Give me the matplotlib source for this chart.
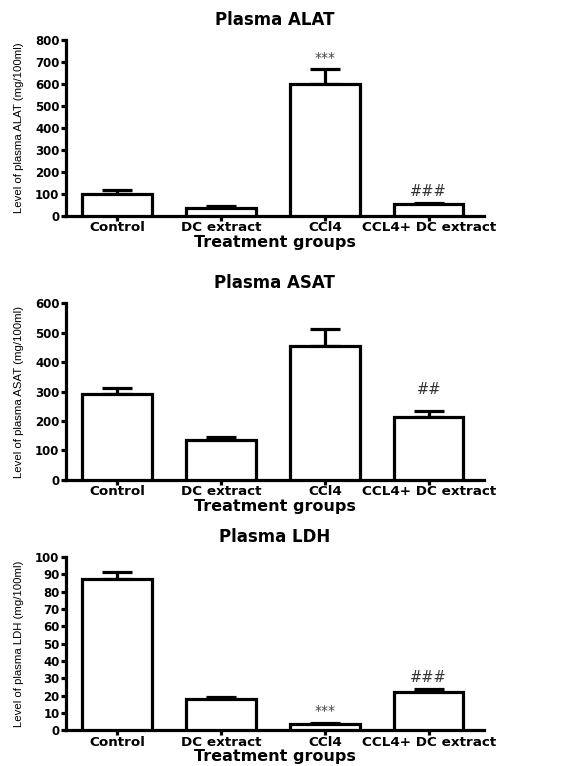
import numpy as np
import matplotlib
matplotlib.use("Agg")
import matplotlib.pyplot as plt
from matplotlib import font_manager

plt.rcParams["font.family"] = ["DejaVu Sans"]

installed = {f.name for f in font_manager.fontManager.ttflist}
narrow = "Liberation Sans"
narrow_size = 8.2
for cand in ["Liberation Sans Narrow", "DejaVu Sans Condensed"]:
    if cand in installed:
        narrow, narrow_size = cand, 9
        break

groups = ["Control", "DC extract", "CCl4", "CCL4+ DC extract"]

alat_mean = [100, 38, 600, 55]
alat_err = [18, 7, 68, 5]
alat_marks = ["", "", "***", "###"]

asat_mean = [293, 137, 453, 212]
asat_err = [20, 10, 60, 23]
asat_marks = ["", "", "", "##"]

ldh_mean = [87, 18, 3.5, 22]
ldh_err = [4.5, 1.5, 1.0, 2.0]
ldh_marks = ["", "", "***", "###"]

panels = [
    ("Plasma ALAT", "Level of plasma ALAT (mg/100ml)", alat_mean, alat_err, alat_marks, 800, 100),
    ("Plasma ASAT", "Level of plasma ASAT (mg/100ml)", asat_mean, asat_err, asat_marks, 600, 100),
    ("Plasma LDH", "Level of plasma LDH (mg/100ml)", ldh_mean, ldh_err, ldh_marks, 100, 10),
]
# axes rectangles in figure fractions, and gap above error bar for the marks
rects = [
    [0.1136, 0.718, 0.719, 0.2298],
    [0.1136, 0.3734, 0.719, 0.231],
    [0.1136, 0.0465, 0.719, 0.2265],
]
mark_gap = [0.02, 0.08, 0.02]

fig = plt.figure(figsize=(5.81, 7.66), dpi=100)
lw = 2.3
x = np.arange(len(groups))

for (title, ylab, mean, err, marks, ymax, step), rect, gap in zip(panels, rects, mark_gap):
    ax = fig.add_axes(rect)
    ax.bar(x, mean, width=0.67, color="white", edgecolor="black", linewidth=lw, zorder=3)
    ax.errorbar(x, mean, yerr=[np.zeros(len(mean)), err], fmt="none", ecolor="black",
                elinewidth=lw, capsize=11, capthick=lw, zorder=2)
    for xi, m, e, s in zip(x, mean, err, marks):
        if s:
            if s.startswith("#"):
                ax.text(xi, m + e + ymax * gap, s, ha="center", va="bottom",
                        fontsize=10.5, color="#333333")
            else:
                ax.text(xi, m + e + ymax * 0.025, s, ha="center", va="bottom",
                        fontsize=10, color="#444444")
    ax.set_xlim(-0.49, 3.53)
    ax.set_ylim(0, ymax)
    ax.set_yticks(np.arange(0, ymax + step, step))
    ax.set_xticks(x)
    ax.set_xticklabels(groups, fontweight="bold", fontsize=9.7)
    for lab in ax.get_yticklabels():
        lab.set_fontweight("bold")
        lab.set_fontsize(8.5)
    ax.spines["top"].set_visible(False)
    ax.spines["right"].set_visible(False)
    ax.spines["left"].set_linewidth(lw)
    ax.spines["bottom"].set_linewidth(lw)
    ax.tick_params(axis="both", width=lw, length=3.5, pad=1.2)
    ax.tick_params(axis="x", pad=0.3)
    ax.set_title(title, fontweight="bold", fontsize=12, pad=11)
    ax.set_ylabel(ylab, family=narrow, fontsize=narrow_size, labelpad=8)
    ax.set_xlabel("Treatment groups", fontweight="bold", fontsize=11.5, labelpad=0.5)

fig.savefig("out.png", dpi=100)
